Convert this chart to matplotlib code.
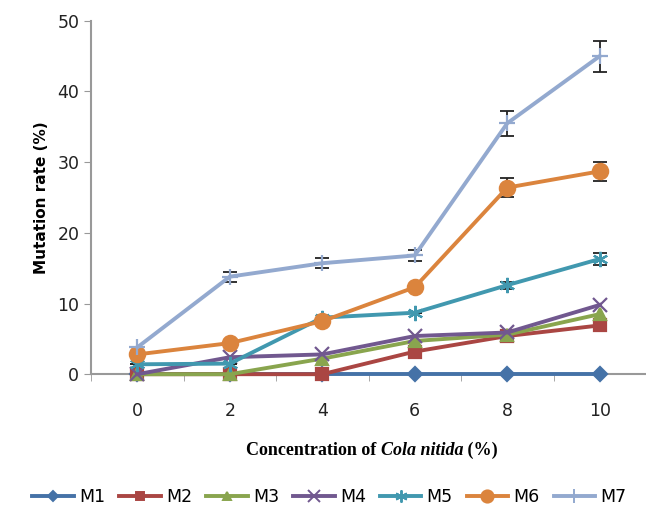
import numpy as np
import matplotlib
matplotlib.use('Agg')
import matplotlib.pyplot as plt
from matplotlib.lines import Line2D

conc = [0, 2, 4, 6, 8, 10]
names = ['M1', 'M2', 'M3', 'M4', 'M5', 'M6', 'M7']
m1 = [0, 0, 0, 0, 0, 0]
m2 = [0, 0, 0, 3.2, 5.4, 6.9]
m3 = [0, 0, 2.2, 4.7, 5.6, 8.5]
m4 = [0, 2.4, 2.8, 5.4, 5.9, 9.8]
m5 = [1.4, 1.5, 8.0, 8.7, 12.6, 16.3]
m6 = [2.8, 4.4, 7.5, 12.3, 26.4, 28.7]
m7 = [3.8, 13.8, 15.7, 16.8, 35.5, 45.0]
err6 = [0, 0, 0, 0, 1.3, 1.3]
err7 = [0, 0.7, 0.7, 0.8, 1.8, 2.2]
err5 = [0, 0, 0, 0, 0.5, 0.8]

colors = ['#4572A7', '#AA4643', '#89A54E', '#71588F', '#4198AF', '#DB843D', '#93A9CF']
markers = ['D', 's', '^', 'x', (6, 2, 0), 'o', '+']
msizes = [7, 8, 8, 10, 11, 11, 12]

fig = plt.figure(figsize=(6.46, 5.19), dpi=100)
ax = fig.add_axes([0.141, 0.279, 0.859, 0.681])

series = [m1, m2, m3, m4, m5, m6, m7]
errs = {4: err5, 5: err6, 6: err7}
for i, ys in enumerate(series):
    if i in errs:
        ax.errorbar(conc, ys, yerr=errs[i], fmt='none', ecolor='#222222',
                    elinewidth=1.3, capsize=5, capthick=1.3, zorder=2 + i)
    ax.plot(conc, ys, color=colors[i], lw=2.8, marker=markers[i], ms=msizes[i],
            mew=1.6, mec=colors[i], mfc=colors[i], zorder=3 + i, label=names[i],
            clip_on=False)

ax.set_xlim(-1, 11)
ax.set_ylim(0, 50)
ax.set_yticks(range(0, 51, 10))
ax.set_xticks(conc)
ax.set_xticks([-1, 1, 3, 5, 7, 9, 11], minor=True)
ax.tick_params(axis='x', which='major', length=0, pad=20, labelsize=12.5, labelcolor='#222222')
ax.tick_params(axis='x', which='minor', length=5, color='#999999', direction='out')
ax.tick_params(axis='y', length=5, color='#999999', labelsize=12.5, labelcolor='#222222')
for s in ['top', 'right']:
    ax.spines[s].set_visible(False)
for s in ['left', 'bottom']:
    ax.spines[s].set_color('#999999')
    ax.spines[s].set_linewidth(1.5)

ax.set_ylabel('Mutation rate (%)', fontsize=11, fontweight='bold', labelpad=6)

# x label with italic species name
fig.canvas.draw()
r = fig.canvas.get_renderer()
parts = [('Concentration of ', 'normal'), ('Cola nitida', 'italic'), (' (%)', 'normal')]
texts = []
total = 0
for s, st in parts:
    t = fig.text(0, 0.132, s, fontsize=13, fontweight='bold', style=st,
                 family='Liberation Serif', va='center')
    w = t.get_window_extent(r).width
    texts.append((t, w))
    total += w
x0 = 0.576 * fig.bbox.width - total / 2
for t, w in texts:
    t.set_x(x0 / fig.bbox.width)
    x0 += w

handles = [Line2D([], [], color=colors[i], lw=2.8, marker=markers[i], ms=msizes[i] * 0.8,
                  mew=1.4, mfc=colors[i], mec=colors[i]) for i in range(7)]
fig.legend(handles, names, loc='center', bbox_to_anchor=(0.51, 0.042), ncol=7,
           frameon=False, fontsize=12.5, handlelength=2.4, handletextpad=0.3,
           columnspacing=0.8)

fig.savefig('out.png', dpi=100)
